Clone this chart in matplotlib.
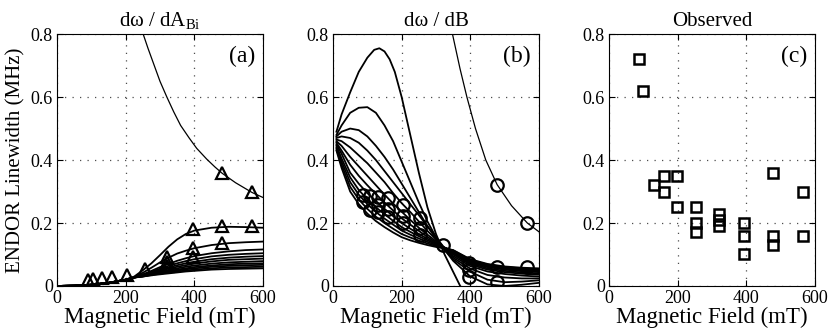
import numpy as np
import matplotlib
matplotlib.use("Agg")
import matplotlib.pyplot as plt

plt.rcParams['font.family'] = ['Liberation Serif', 'DejaVu Serif']
plt.rcParams['mathtext.fontset'] = 'custom'
plt.rcParams['mathtext.rm'] = 'Liberation Serif'
plt.rcParams['mathtext.it'] = 'Liberation Serif:italic'

# ---- panel (a): d omega / dA_Bi ----
xa = [0, 50, 100, 150, 200, 225, 250, 275, 300, 325, 350, 375, 400, 450, 500, 550, 600]
a_fan = [
    [0, 0.001, 0.004, 0.01, 0.02, 0.03, 0.05, 0.072, 0.098, 0.125, 0.148, 0.165, 0.176, 0.185, 0.188, 0.187, 0.185],
    [0, 0.001, 0.004, 0.01, 0.02, 0.028, 0.042, 0.058, 0.075, 0.09, 0.103, 0.112, 0.12, 0.13, 0.136, 0.139, 0.141],
    [0, 0.001, 0.004, 0.01, 0.02, 0.027, 0.037, 0.048, 0.06, 0.07, 0.08, 0.088, 0.095, 0.104, 0.11, 0.114, 0.116],
    [0, 0.001, 0.004, 0.01, 0.02, 0.027, 0.035, 0.045, 0.055, 0.064, 0.072, 0.079, 0.085, 0.094, 0.099, 0.102, 0.104],
    [0, 0.001, 0.004, 0.01, 0.02, 0.027, 0.034, 0.043, 0.051, 0.059, 0.066, 0.072, 0.077, 0.085, 0.09, 0.093, 0.095],
    [0, 0.001, 0.004, 0.01, 0.02, 0.027, 0.033, 0.041, 0.048, 0.055, 0.061, 0.066, 0.071, 0.078, 0.083, 0.085, 0.087],
    [0, 0.001, 0.004, 0.01, 0.02, 0.027, 0.032, 0.039, 0.045, 0.051, 0.056, 0.061, 0.065, 0.071, 0.075, 0.077, 0.079],
    [0, 0.001, 0.004, 0.01, 0.02, 0.027, 0.031, 0.037, 0.043, 0.048, 0.052, 0.056, 0.06, 0.065, 0.069, 0.071, 0.072],
    [0, 0.001, 0.004, 0.01, 0.02, 0.027, 0.031, 0.036, 0.041, 0.045, 0.049, 0.053, 0.056, 0.061, 0.064, 0.066, 0.067],
    [0, 0.001, 0.004, 0.01, 0.02, 0.027, 0.03, 0.035, 0.039, 0.043, 0.046, 0.049, 0.052, 0.056, 0.059, 0.06, 0.061],
    [0, 0.001, 0.004, 0.01, 0.02, 0.027, 0.03, 0.034, 0.037, 0.04, 0.043, 0.046, 0.048, 0.052, 0.054, 0.055, 0.056],
]
xa_thin = [251, 265, 280, 300, 320, 340, 360, 385, 407, 436, 460, 481, 520, 568, 600]
ya_thin = [0.8, 0.755, 0.71, 0.65, 0.6, 0.553, 0.51, 0.47, 0.437, 0.403, 0.378, 0.358, 0.328, 0.297, 0.281]
tri_x = [91, 106, 130, 159, 203, 257, 320, 320, 320, 397, 397, 397, 480, 480, 480, 567, 567]
tri_y = [0.02, 0.021, 0.024, 0.03, 0.035, 0.053, 0.093, 0.075, 0.065, 0.18, 0.12, 0.093,
         0.19, 0.135, 0.358, 0.19, 0.30]

# ---- panel (b): d omega / dB ----
xb_top = [10, 25, 50, 75, 100, 120, 135, 150, 165, 180, 200, 225, 250, 275, 300, 325, 350, 375]
yb_top = [0.49, 0.545, 0.615, 0.68, 0.725, 0.75, 0.755, 0.745, 0.72, 0.68, 0.60, 0.48, 0.36, 0.25,
          0.165, 0.10, 0.045, -0.01]
xb = [10, 25, 50, 75, 100, 125, 150, 175, 200, 225, 250, 275, 300, 325, 350, 400, 450, 500, 550, 600]
b_fan = [
    [0.48, 0.51, 0.55, 0.566, 0.568, 0.55, 0.51, 0.46, 0.395, 0.33, 0.265, 0.205, 0.155, 0.115, 0.08, 0.03, 0.005, 0.0, 0.004, 0.01],
    [0.475, 0.49, 0.50, 0.495, 0.475, 0.445, 0.41, 0.37, 0.325, 0.28, 0.235, 0.19, 0.15, 0.115, 0.085, 0.045, 0.02, 0.012, 0.014, 0.018],
    [0.47, 0.475, 0.47, 0.455, 0.43, 0.40, 0.365, 0.33, 0.295, 0.26, 0.225, 0.19, 0.155, 0.12, 0.09, 0.055, 0.035, 0.027, 0.024, 0.024],
    [0.465, 0.46, 0.44, 0.415, 0.39, 0.36, 0.33, 0.295, 0.263, 0.235, 0.205, 0.175, 0.148, 0.12, 0.095, 0.063, 0.046, 0.038, 0.033, 0.03],
    [0.46, 0.445, 0.41, 0.38, 0.35, 0.32, 0.29, 0.262, 0.236, 0.21, 0.185, 0.163, 0.142, 0.12, 0.1, 0.068, 0.052, 0.044, 0.039, 0.036],
    [0.455, 0.43, 0.385, 0.35, 0.32, 0.292, 0.265, 0.24, 0.215, 0.195, 0.175, 0.156, 0.138, 0.12, 0.104, 0.072, 0.056, 0.048, 0.043, 0.04],
    [0.45, 0.42, 0.36, 0.325, 0.295, 0.27, 0.245, 0.222, 0.20, 0.182, 0.165, 0.15, 0.135, 0.121, 0.107, 0.075, 0.06, 0.052, 0.047, 0.044],
    [0.445, 0.405, 0.345, 0.305, 0.275, 0.25, 0.228, 0.207, 0.187, 0.172, 0.158, 0.145, 0.133, 0.122, 0.11, 0.078, 0.063, 0.055, 0.05, 0.047],
    [0.44, 0.395, 0.33, 0.29, 0.26, 0.235, 0.214, 0.195, 0.176, 0.163, 0.151, 0.14, 0.13, 0.122, 0.112, 0.081, 0.066, 0.058, 0.053, 0.05],
    [0.435, 0.385, 0.315, 0.275, 0.245, 0.22, 0.2, 0.182, 0.165, 0.154, 0.144, 0.135, 0.127, 0.121, 0.113, 0.083, 0.068, 0.06, 0.056, 0.053],
    [0.43, 0.375, 0.30, 0.26, 0.23, 0.206, 0.187, 0.17, 0.155, 0.145, 0.137, 0.13, 0.124, 0.119, 0.114, 0.085, 0.07, 0.062, 0.058, 0.056],
]
xb_thin = [348, 370, 390, 415, 445, 478, 520, 566, 600]
yb_thin = [0.8, 0.69, 0.6, 0.5, 0.4, 0.322, 0.255, 0.2, 0.172]
circ_x = [88, 88, 108, 108, 132, 132, 132, 161, 161, 161, 203, 203, 203, 253, 253, 253,
          321, 397, 397, 397, 477, 477, 478, 566, 566]
circ_y = [0.289, 0.266, 0.285, 0.241, 0.284, 0.257, 0.236, 0.278, 0.243, 0.22, 0.257, 0.222, 0.199,
          0.215, 0.183, 0.162, 0.13, 0.072, 0.051, 0.028, 0.061, 0.014, 0.322, 0.061, 0.2]

# ---- panel (c): observed ----
obs_x = [88, 100, 130, 161, 161, 198, 198, 253, 253, 253, 319, 319, 319, 393, 393, 393,
         477, 477, 477, 566, 566]
obs_y = [0.72, 0.62, 0.32, 0.35, 0.30, 0.35, 0.25, 0.25, 0.20, 0.17, 0.23, 0.21, 0.19,
         0.20, 0.16, 0.10, 0.36, 0.16, 0.13, 0.30, 0.16]

fig = plt.figure(figsize=(8.3, 3.31), dpi=100)
lefts = [57 / 830, 333 / 830, 609 / 830]
axs = [fig.add_axes([l, 0.136, 206 / 830, 0.761]) for l in lefts]
titles = [r'dω / dA$_{\mathrm{Bi}}$', 'dω / dB', 'Observed']
tags = ['(a)', '(b)', '(c)']

for ax, t, tag in zip(axs, titles, tags):
    ax.set_xlim(0, 600)
    ax.set_ylim(0, 0.8)
    ax.set_xticks([0, 200, 400, 600])
    ax.set_yticks([0, 0.2, 0.4, 0.6, 0.8])
    ax.set_yticklabels(['0', '0.2', '0.4', '0.6', '0.8'])
    ax.tick_params(direction='in', length=4, top=True, right=True, labelsize=13, pad=3)
    ax.grid(True, linestyle=(0, (1, 5)), color='0.3', linewidth=0.9)
    ax.set_title(t, fontsize=15, pad=6)
    ax.set_xlabel('Magnetic Field (mT)', fontsize=16.5, labelpad=0)
    ax.text(0.96, 0.955, tag, transform=ax.transAxes, ha='right', va='top', fontsize=17)

ax = axs[0]
for ys in a_fan:
    ax.plot(xa, ys, color='k', lw=1.3)
ax.plot(xa_thin, ya_thin, color='k', lw=0.9)
ax.plot(tri_x, tri_y, '^', ms=9, mfc='none', mec='k', mew=1.6)
ax.set_ylabel('ENDOR Linewidth (MHz)', fontsize=15)

ax = axs[1]
ax.plot(xb_top, yb_top, color='k', lw=1.3)
for ys in b_fan:
    ax.plot(xb, ys, color='k', lw=1.3)
ax.plot(xb_thin, yb_thin, color='k', lw=0.9)
ax.plot(circ_x, circ_y, 'o', ms=9, mfc='none', mec='k', mew=1.6)

ax = axs[2]
ax.plot(obs_x, obs_y, 's', ms=7, mfc='none', mec='k', mew=1.8)

fig.savefig('out.png', dpi=100)
